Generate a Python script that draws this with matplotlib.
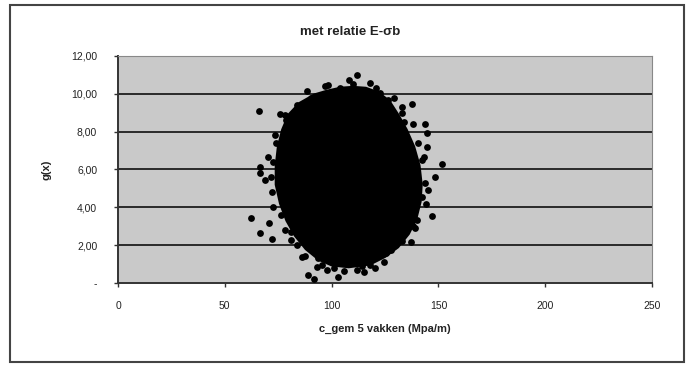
import numpy as np
import matplotlib
matplotlib.use("Agg")
import matplotlib.pyplot as plt
from matplotlib.patches import Polygon, Rectangle

plt.rcParams["font.family"] = ["Liberation Sans", "DejaVu Sans"]

# dense core of the point cloud, outline (c_gem, g(x))
core_x = [98, 104, 110, 116, 122, 127, 131, 135, 138.5, 141, 142, 141.5, 139.5, 136, 131, 125,
          118, 108, 100, 94, 88, 83, 79, 76, 74, 74, 75, 77, 80, 85, 92]
core_y = [10.15, 10.3, 10.35, 10.3, 10.05, 9.6, 8.9, 8.1, 7.2, 6.2, 5.2, 4.3, 3.4, 2.6, 1.9, 1.4,
          1.0, 0.85, 0.95, 1.25, 1.8, 2.5, 3.3, 4.2, 5.2, 6.2, 7.2, 8.1, 8.9, 9.5, 9.95]

# loose points around the edge of the cloud
pts_x = [111.7, 108.0, 98.1, 88.4, 118.0, 103.9, 66.1, 76.0, 78.1, 132.8, 137.6, 138.0,
         143.8, 144.8, 144.6, 151.8, 148.3, 146.9, 140.1, 137.0, 127.7, 62.2, 66.7, 70.8,
         72.3, 78.1, 66.7, 66.7, 68.8, 70.2, 74.0, 88.8, 91.9, 93.2, 102.9, 101.2, 115.2,
         120.4, 124.6, 87.4, 93.6, 125.6, 80.8, 142.1, 143.2, 132.8, 94.6, 90.4, 122.5,
         126.6, 72.5, 72.0, 71.5, 72.5, 73.5, 143.5, 144.0, 142.5, 140.5, 138.0, 133.0,
         84.0, 81.0, 98.0, 106.0, 112.0, 118.0, 97.0, 110.0, 84.0, 78.5, 134.0,
         129.0, 121.0, 86.0, 76.5, 139.0, 145.0, 114.0, 95.5]
pts_y = [11.0, 10.73, 10.47, 10.17, 10.55, 10.29, 9.11, 8.91, 8.88, 9.32, 9.46, 8.40,
         8.40, 7.91, 7.20, 6.29, 5.62, 3.54, 3.33, 2.18, 1.74, 3.42, 2.63, 3.19,
         2.31, 2.80, 6.15, 5.80, 5.44, 6.68, 7.38, 0.42, 0.19, 0.86, 0.33, 0.78, 0.60,
         0.78, 1.13, 1.43, 1.31, 1.57, 2.27, 4.56, 6.68, 8.97, 9.58, 9.76, 10.03,
         9.67, 4.0, 4.8, 5.6, 6.4, 7.8, 5.3, 4.2, 6.5, 7.4, 3.0, 2.2,
         2.0, 2.7, 0.7, 0.65, 0.7, 0.95, 10.4, 10.5, 9.4, 8.6, 8.5,
         9.8, 10.3, 1.4, 3.6, 2.9, 4.9, 0.9, 0.95]

x_ticks = [0, 50, 100, 150, 200, 250]
y_ticks = [0, 2, 4, 6, 8, 10, 12]
y_labels = ["-", "2,00", "4,00", "6,00", "8,00", "10,00", "12,00"]

fig = plt.figure(figsize=(6.91, 3.65), dpi=100)
fig.patch.set_facecolor("white")
fig.patches.append(Rectangle((0.0145, 0.008), 0.975, 0.978, transform=fig.transFigure,
                             fill=False, edgecolor="#444444", linewidth=1.5))

ax = fig.add_axes([0.1708, 0.2247, 0.7728, 0.6219])
ax.set_facecolor("#c9c9c9")
ax.set_xlim(0, 250)
ax.set_ylim(0, 12)

for v in y_ticks[1:-1]:
    ax.axhline(v, color="#2a2a2a", linewidth=1.4, zorder=1)

ax.add_patch(Polygon(np.column_stack([core_x, core_y]), closed=True,
                     facecolor="black", edgecolor="black", linewidth=2, zorder=2))
ax.scatter(pts_x, pts_y, s=24, marker="o", color="black", linewidths=0, zorder=3)

ax.set_xticks(x_ticks)
ax.set_yticks(y_ticks)
ax.set_yticklabels(y_labels)
ax.tick_params(axis="both", direction="out", length=3, width=1, color="#333333",
               labelsize=7.5, colors="#222222")
ax.tick_params(axis="x", pad=10)
ax.tick_params(axis="y", pad=12)
for s in ["top", "right"]:
    ax.spines[s].set_color("#888888")
for s in ["bottom", "left"]:
    ax.spines[s].set_color("#333333")
    ax.spines[s].set_linewidth(1.4)

ax.set_xlabel("c_gem 5 vakken (Mpa/m)", fontsize=8, fontweight="bold", color="#222222", labelpad=9)
ax.set_ylabel("g(x)", fontsize=8, fontweight="bold", color="#222222", labelpad=14)
fig.text(0.507, 0.912, "met relatie E-σb", fontsize=9.5, fontweight="bold",
         color="#222222", ha="center", va="center")

fig.savefig("out.png", dpi=100)
